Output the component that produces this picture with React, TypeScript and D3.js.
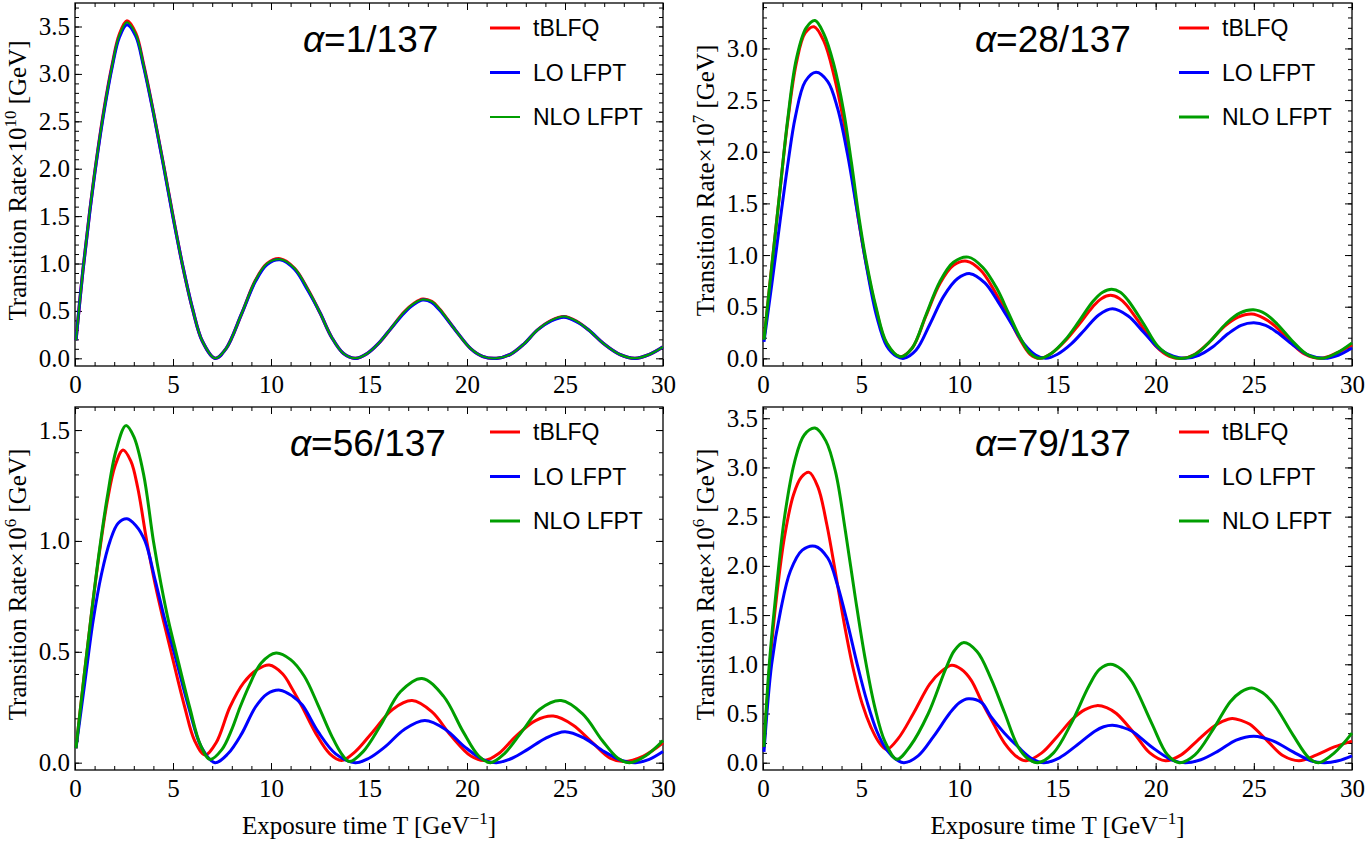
import React, { useEffect, useRef } from 'react'
import * as d3 from 'd3'

type Pt = [number, number]

// alpha = 1/137
const a1Red: Pt[] = [[0.05,0.19],[0.4,0.92],[0.75,1.55],[1.1,2.1],[1.5,2.65],[1.9,3.1],[2.25,3.41],[2.65,3.56],[3.1,3.43],[3.5,3.1],[4.0,2.6],[4.5,2.06],[5.0,1.5],[5.5,0.97],[6.0,0.52],[6.5,0.18],[7.15,0.0],[7.7,0.1],[8.5,0.47],[9.2,0.82],[9.8,1.0],[10.46,1.05],[11.2,0.95],[11.9,0.72],[12.5,0.48],[13.1,0.22],[13.7,0.05],[14.3,0.0],[14.9,0.05],[15.5,0.16],[16.1,0.31],[16.8,0.49],[17.3,0.58],[17.74,0.625],[18.2,0.6],[18.6,0.52],[19.4,0.3],[20.2,0.1],[20.8,0.02],[21.5,0.0],[22.2,0.04],[22.9,0.15],[23.6,0.3],[24.3,0.4],[24.95,0.44],[25.6,0.39],[26.2,0.3],[27.0,0.15],[27.8,0.04],[28.57,0.0],[29.3,0.04],[30,0.12]]
const a1Blue: Pt[] = [[0.05,0.19],[0.4,0.92],[0.75,1.54],[1.1,2.09],[1.5,2.63],[1.9,3.08],[2.25,3.38],[2.65,3.52],[3.1,3.4],[3.5,3.08],[4.0,2.59],[4.5,2.05],[5.0,1.49],[5.5,0.97],[6.0,0.52],[6.5,0.18],[7.15,0.0],[7.7,0.1],[8.5,0.47],[9.2,0.81],[9.8,0.99],[10.46,1.04],[11.2,0.94],[11.9,0.71],[12.5,0.48],[13.1,0.22],[13.7,0.05],[14.3,0.0],[14.9,0.05],[15.5,0.16],[16.1,0.31],[16.8,0.48],[17.3,0.57],[17.74,0.615],[18.2,0.59],[18.6,0.51],[19.4,0.3],[20.2,0.1],[20.8,0.02],[21.5,0.0],[22.2,0.04],[22.9,0.15],[23.6,0.3],[24.3,0.395],[24.95,0.435],[25.6,0.385],[26.2,0.3],[27.0,0.15],[27.8,0.04],[28.57,0.0],[29.3,0.04],[30,0.12]]
const a1Green: Pt[] = [[0.05,0.19],[0.4,0.92],[0.75,1.55],[1.1,2.1],[1.5,2.64],[1.9,3.09],[2.25,3.4],[2.65,3.545],[3.1,3.42],[3.5,3.09],[4.0,2.6],[4.5,2.06],[5.0,1.5],[5.5,0.97],[6.0,0.52],[6.5,0.18],[7.15,0.0],[7.7,0.1],[8.5,0.47],[9.2,0.82],[9.8,1.0],[10.46,1.045],[11.2,0.95],[11.9,0.72],[12.5,0.48],[13.1,0.22],[13.7,0.05],[14.3,0.0],[14.9,0.05],[15.5,0.16],[16.1,0.31],[16.8,0.49],[17.3,0.58],[17.74,0.62],[18.2,0.6],[18.6,0.52],[19.4,0.3],[20.2,0.1],[20.8,0.02],[21.5,0.0],[22.2,0.04],[22.9,0.15],[23.6,0.3],[24.3,0.4],[24.95,0.44],[25.6,0.39],[26.2,0.3],[27.0,0.15],[27.8,0.04],[28.57,0.0],[29.3,0.04],[30,0.12]]

// alpha = 28/137
const a28Red: Pt[] = [[0.05,0.18],[0.45,0.9],[0.85,1.6],[1.25,2.28],[1.7,2.86],[2.15,3.15],[2.6,3.21],[3.1,3.07],[3.6,2.75],[4.1,2.3],[4.5,1.82],[4.9,1.3],[5.25,0.92],[5.75,0.48],[6.3,0.14],[6.98,0.015],[7.6,0.1],[8.3,0.41],[9.0,0.72],[9.7,0.9],[10.38,0.94],[11.1,0.85],[11.8,0.65],[12.5,0.4],[13.1,0.18],[13.6,0.04],[14.1,0.0],[14.7,0.05],[15.4,0.17],[16.1,0.33],[16.8,0.5],[17.25,0.58],[17.7,0.61],[18.15,0.58],[18.5,0.52],[19.3,0.31],[20.0,0.12],[20.7,0.02],[21.35,0.0],[22.0,0.04],[22.7,0.15],[23.5,0.31],[24.2,0.4],[24.9,0.43],[25.5,0.39],[26.1,0.31],[26.9,0.15],[27.6,0.04],[28.4,0.0],[29.2,0.05],[30,0.13]]
const a28Blue: Pt[] = [[0.05,0.16],[0.45,0.72],[0.85,1.3],[1.25,1.86],[1.65,2.34],[2.15,2.68],[2.7,2.77],[3.3,2.68],[3.8,2.42],[4.3,1.98],[4.8,1.42],[5.3,0.86],[5.8,0.4],[6.3,0.12],[6.8,0.02],[7.18,0.0],[7.8,0.08],[8.5,0.33],[9.2,0.6],[9.9,0.77],[10.55,0.82],[11.3,0.73],[12.0,0.54],[12.7,0.32],[13.3,0.14],[13.9,0.03],[14.4,0.0],[15.0,0.04],[15.7,0.14],[16.4,0.28],[17.1,0.42],[17.8,0.48],[18.6,0.41],[19.4,0.25],[20.2,0.09],[20.9,0.02],[21.5,0.0],[22.2,0.03],[22.9,0.11],[23.7,0.24],[24.35,0.32],[25.0,0.345],[25.6,0.32],[26.2,0.25],[27.0,0.13],[27.8,0.03],[28.6,0.0],[29.3,0.03],[30,0.1]]
const a28Green: Pt[] = [[0.05,0.18],[0.45,0.9],[0.85,1.6],[1.25,2.3],[1.7,2.9],[2.2,3.2],[2.65,3.27],[3.1,3.14],[3.6,2.85],[4.1,2.4],[4.5,1.9],[4.9,1.35],[5.25,0.95],[5.75,0.5],[6.3,0.15],[7.0,0.015],[7.6,0.1],[8.3,0.42],[9.0,0.74],[9.7,0.93],[10.46,0.98],[11.2,0.88],[11.9,0.68],[12.5,0.44],[13.1,0.2],[13.6,0.05],[14.1,0.0],[14.7,0.05],[15.4,0.18],[16.1,0.36],[16.8,0.55],[17.3,0.64],[17.76,0.67],[18.2,0.64],[18.6,0.56],[19.4,0.33],[20.1,0.12],[20.8,0.02],[21.4,0.0],[22.1,0.05],[22.8,0.17],[23.6,0.34],[24.3,0.44],[24.98,0.47],[25.6,0.43],[26.2,0.33],[27.0,0.16],[27.7,0.04],[28.46,0.0],[29.2,0.05],[30,0.15]]

// alpha = 56/137
const a56Red: Pt[] = [[0.05,0.065],[0.45,0.38],[0.85,0.68],[1.25,0.95],[1.65,1.18],[2.05,1.34],[2.45,1.41],[2.85,1.36],[3.2,1.24],[3.66,1.0],[4.1,0.8],[4.46,0.66],[4.9,0.5],[5.6,0.25],[6.1,0.1],[6.63,0.035],[7.2,0.09],[7.9,0.25],[8.6,0.36],[9.3,0.42],[9.91,0.44],[10.6,0.4],[11.1,0.33],[11.6,0.25],[12.3,0.13],[13.0,0.04],[13.6,0.01],[14.3,0.05],[15.2,0.14],[16.2,0.24],[17.2,0.28],[18.2,0.23],[19.2,0.12],[20.2,0.03],[20.9,0.01],[21.6,0.04],[22.5,0.12],[23.5,0.19],[24.4,0.21],[25.4,0.17],[26.4,0.09],[27.3,0.02],[28.0,0.005],[29.0,0.03],[30,0.09]]
const a56Blue: Pt[] = [[0.05,0.065],[0.5,0.36],[0.93,0.643],[1.35,0.85],[1.79,1.0],[2.2,1.08],[2.65,1.1],[3.1,1.07],[3.57,1.0],[4.1,0.82],[4.59,0.643],[5.05,0.5],[5.8,0.25],[6.45,0.07],[7.14,0.0],[7.8,0.04],[8.5,0.13],[9.2,0.25],[9.8,0.31],[10.46,0.327],[11.1,0.3],[11.6,0.26],[12.4,0.14],[13.3,0.04],[14.3,0.0],[15.0,0.02],[15.8,0.07],[16.8,0.15],[17.85,0.19],[18.9,0.15],[19.9,0.07],[20.8,0.015],[21.5,0.0],[22.3,0.02],[23.1,0.06],[24.0,0.11],[25.0,0.14],[26.0,0.11],[27.0,0.05],[27.9,0.01],[28.6,0.0],[29.3,0.015],[30,0.05]]
const a56Green: Pt[] = [[0.05,0.065],[0.45,0.38],[0.85,0.68],[1.25,0.96],[1.65,1.2],[2.1,1.41],[2.6,1.52],[3.0,1.47],[3.5,1.3],[4.0,1.0],[4.4,0.8],[4.76,0.643],[5.15,0.5],[5.85,0.25],[6.4,0.08],[6.89,0.015],[7.5,0.06],[8.0,0.15],[8.42,0.25],[8.9,0.35],[9.5,0.45],[10.26,0.495],[11.0,0.465],[11.7,0.39],[12.4,0.26],[13.1,0.12],[13.6,0.04],[14.0,0.005],[14.7,0.05],[15.6,0.17],[16.6,0.32],[17.7,0.38],[18.8,0.3],[19.8,0.14],[20.6,0.03],[21.2,0.0],[21.9,0.04],[22.8,0.14],[23.7,0.24],[24.8,0.28],[25.9,0.22],[26.9,0.1],[27.7,0.02],[28.3,0.0],[29.1,0.03],[30,0.1]]

// alpha = 79/137
const a79Red: Pt[] = [[0.05,0.15],[0.35,1.0],[0.7,1.7],[1.1,2.3],[1.55,2.72],[1.95,2.9],[2.35,2.95],[2.8,2.8],[3.25,2.42],[3.7,1.92],[4.15,1.4],[4.6,0.95],[5.05,0.6],[5.5,0.36],[5.9,0.21],[6.3,0.136],[6.9,0.25],[7.66,0.5],[8.5,0.8],[9.1,0.93],[9.61,0.99],[10.1,0.95],[10.6,0.84],[11.14,0.62],[11.6,0.45],[12.3,0.2],[13.0,0.05],[13.4,0.02],[14.2,0.1],[15.0,0.27],[15.8,0.45],[16.4,0.54],[17.0,0.58],[17.5,0.56],[18.0,0.5],[18.9,0.3],[19.7,0.1],[20.5,0.02],[21.3,0.08],[22.1,0.22],[22.9,0.36],[23.4,0.42],[23.9,0.45],[24.35,0.43],[24.8,0.39],[25.7,0.22],[26.5,0.07],[27.3,0.02],[28.2,0.08],[29.1,0.16],[30,0.22]]
const a79Blue: Pt[] = [[0.05,0.11],[0.44,1.0],[0.9,1.55],[1.4,1.95],[2.0,2.16],[2.65,2.2],[3.3,2.08],[3.8,1.8],[4.3,1.42],[4.8,1.0],[5.3,0.62],[5.8,0.32],[6.3,0.13],[6.8,0.03],[7.18,0.0],[7.9,0.07],[8.7,0.27],[9.5,0.5],[10.0,0.61],[10.46,0.65],[11.14,0.61],[11.6,0.47],[12.3,0.3],[13.0,0.16],[13.7,0.04],[14.3,0.0],[15.1,0.05],[16.0,0.18],[16.9,0.32],[17.35,0.365],[17.8,0.38],[18.3,0.36],[18.8,0.32],[19.8,0.16],[20.8,0.03],[21.5,0.0],[22.3,0.03],[23.2,0.12],[24.1,0.23],[25.0,0.27],[26.0,0.22],[27.0,0.11],[27.9,0.02],[28.6,0.0],[29.3,0.02],[30,0.07]]
const a79Green: Pt[] = [[0.05,0.16],[0.32,1.0],[0.7,1.8],[1.1,2.5],[1.6,3.05],[2.1,3.33],[2.65,3.4],[3.2,3.27],[3.7,2.95],[4.2,2.35],[4.7,1.68],[5.2,1.06],[5.7,0.56],[6.2,0.22],[6.81,0.035],[7.5,0.17],[8.42,0.5],[9.3,0.95],[9.75,1.14],[10.2,1.22],[10.9,1.13],[11.6,0.86],[12.3,0.51],[13.0,0.16],[13.5,0.04],[14.0,0.0],[14.8,0.1],[15.7,0.4],[16.6,0.78],[17.15,0.95],[17.7,1.0],[18.25,0.95],[18.8,0.82],[19.8,0.4],[20.6,0.08],[21.2,0.0],[22.0,0.08],[22.9,0.33],[23.8,0.62],[24.35,0.72],[24.9,0.76],[25.45,0.71],[26.0,0.6],[27.0,0.28],[27.8,0.05],[28.3,0.0],[29.1,0.1],[30,0.3]]

const xMajor = [0, 5, 10, 15, 20, 25, 30]
const seriesNames = ['tBLFQ', 'LO LFPT', 'NLO LFPT']
const colors = ['#ff0000', '#0000ff', '#009e00']
const alphaLabels = ['1/137', '28/137', '56/137', '79/137']
const powers = ['10', '7', '6', '6']

const panels = [
  { data: [a1Red, a1Blue, a1Green], yDomain: [-0.081, 3.748], left: 75, right: 663, top: 3, bottom: 366, titleX: 303, xLabel: false, thin: true },
  { data: [a28Red, a28Blue, a28Green], yDomain: [-0.074, 3.44], left: 763, right: 1352, top: 3, bottom: 366, titleX: 975, xLabel: false, thin: false },
  { data: [a56Red, a56Blue, a56Green], yDomain: [-0.033, 1.604], left: 75, right: 663, top: 407, bottom: 770, titleX: 290, xLabel: true, thin: false },
  { data: [a79Red, a79Blue, a79Green], yDomain: [-0.074, 3.614], left: 763, right: 1352, top: 407, bottom: 770, titleX: 975, xLabel: true, thin: false },
]

const serif = '"Liberation Serif", "Times New Roman", serif'
const sans = '"Liberation Sans", Arial, sans-serif'

const Panel = ({ cfg, idx }) => {
  const ref = useRef(null)

  useEffect(() => {
    const g = d3.select(ref.current)
    g.selectAll('*').remove()
    const { left, right, top, bottom } = cfg

    const x = d3.scaleLinear().domain([0, 30]).range([left, right])
    const y = d3.scaleLinear().domain(cfg.yDomain).range([bottom, top])

    const yMaxTick = Math.floor(cfg.yDomain[1] * 10 + 1e-6)
    const yMinor = d3.range(0, yMaxTick + 1).map((i) => i / 10)
    const yMajor = yMinor.filter((_, i) => i % 5 === 0)
    const xMinor = d3.range(0, 31)

    const styleAxis = (sel) => {
      sel.select('.domain').remove()
      sel.selectAll('line').attr('stroke', '#000').attr('stroke-width', 1)
      sel.selectAll('text').attr('font-family', serif).attr('font-size', 25).attr('fill', '#000')
    }

    // minor ticks on all four sides
    g.append('g').attr('transform', `translate(0,${bottom})`)
      .call(d3.axisBottom(x).tickValues(xMinor).tickSize(-4).tickFormat(() => '')).call(styleAxis)
    g.append('g').attr('transform', `translate(0,${top})`)
      .call(d3.axisTop(x).tickValues(xMinor).tickSize(-4).tickFormat(() => '')).call(styleAxis)
    g.append('g').attr('transform', `translate(${left},0)`)
      .call(d3.axisLeft(y).tickValues(yMinor).tickSize(-4).tickFormat(() => '')).call(styleAxis)
    g.append('g').attr('transform', `translate(${right},0)`)
      .call(d3.axisRight(y).tickValues(yMinor).tickSize(-4).tickFormat(() => '')).call(styleAxis)

    // major ticks
    g.append('g').attr('transform', `translate(0,${bottom})`)
      .call(d3.axisBottom(x).tickValues(xMajor).tickSize(-7).tickPadding(9).tickFormat(d3.format('d'))).call(styleAxis)
    g.append('g').attr('transform', `translate(0,${top})`)
      .call(d3.axisTop(x).tickValues(xMajor).tickSize(-7).tickFormat(() => '')).call(styleAxis)
    g.append('g').attr('transform', `translate(${left},0)`)
      .call(d3.axisLeft(y).tickValues(yMajor).tickSize(-7).tickPadding(5).tickFormat(d3.format('.1f'))).call(styleAxis)
    g.append('g').attr('transform', `translate(${right},0)`)
      .call(d3.axisRight(y).tickValues(yMajor).tickSize(-7).tickFormat(() => '')).call(styleAxis)

    g.append('rect')
      .attr('x', left).attr('y', top)
      .attr('width', right - left).attr('height', bottom - top)
      .attr('fill', 'none').attr('stroke', '#000').attr('stroke-width', 1.3)

    const line = d3.line<Pt>().x((d) => x(d[0])).y((d) => y(d[1])).curve(d3.curveCatmullRom.alpha(0.5))

    cfg.data.forEach((series, i) => {
      g.append('path')
        .datum(series)
        .attr('d', line)
        .attr('fill', 'none')
        .attr('stroke', colors[i])
        .attr('stroke-width', cfg.thin ? (i === 2 ? 2 : 3.2) : 3)
        .attr('stroke-linejoin', 'round')
    })

    // title
    const title = g.append('text')
      .attr('x', cfg.titleX).attr('y', top + 49)
      .attr('font-family', sans).attr('font-size', 37).attr('fill', '#000')
    title.append('tspan').attr('font-style', 'italic').text('α')
    title.append('tspan').text('=' + alphaLabels[idx])

    // legend
    const lg = g.append('g')
    seriesNames.forEach((name, i) => {
      const ly = top + 25 + i * 44.5
      lg.append('line')
        .attr('x1', right - 173).attr('x2', right - 143)
        .attr('y1', ly).attr('y2', ly)
        .attr('stroke', colors[i])
        .attr('stroke-width', cfg.thin && i === 2 ? 2 : 3)
      lg.append('text')
        .attr('x', right - 130).attr('y', ly + 8)
        .attr('font-family', sans).attr('font-size', 23).attr('fill', '#000')
        .text(name)
    })

    // y axis label
    const yl = g.append('text')
      .attr('transform', `translate(${left - 49},${(top + bottom) / 2 - 4}) rotate(-90)`)
      .attr('text-anchor', 'middle')
      .attr('font-family', serif).attr('font-size', 25).attr('fill', '#000')
    yl.append('tspan').text('Transition Rate×10')
    yl.append('tspan').attr('font-size', 17).attr('dy', -10).text(powers[idx])
    yl.append('tspan').attr('dy', 10).text(' [GeV]')

    if (cfg.xLabel) {
      const xl = g.append('text')
        .attr('x', (left + right) / 2).attr('y', bottom + 64)
        .attr('text-anchor', 'middle')
        .attr('font-family', serif).attr('font-size', 25).attr('fill', '#000')
      xl.append('tspan').text('Exposure time T [GeV')
      xl.append('tspan').attr('font-size', 17).attr('dy', -10).text('−1')
      xl.append('tspan').attr('dy', 10).text(']')
    }
  }, [cfg, idx])

  return <g ref={ref} />
}

export default function App() {
  return (
    <svg
      width={1365}
      height={846}
      style={{ position: 'absolute', left: 0, top: 0, background: '#fff' }}
    >
      <rect width={1365} height={846} fill="#fff" />
      {panels.map((p, i) => (
        <Panel key={i} cfg={p} idx={i} />
      ))}
    </svg>
  )
}
